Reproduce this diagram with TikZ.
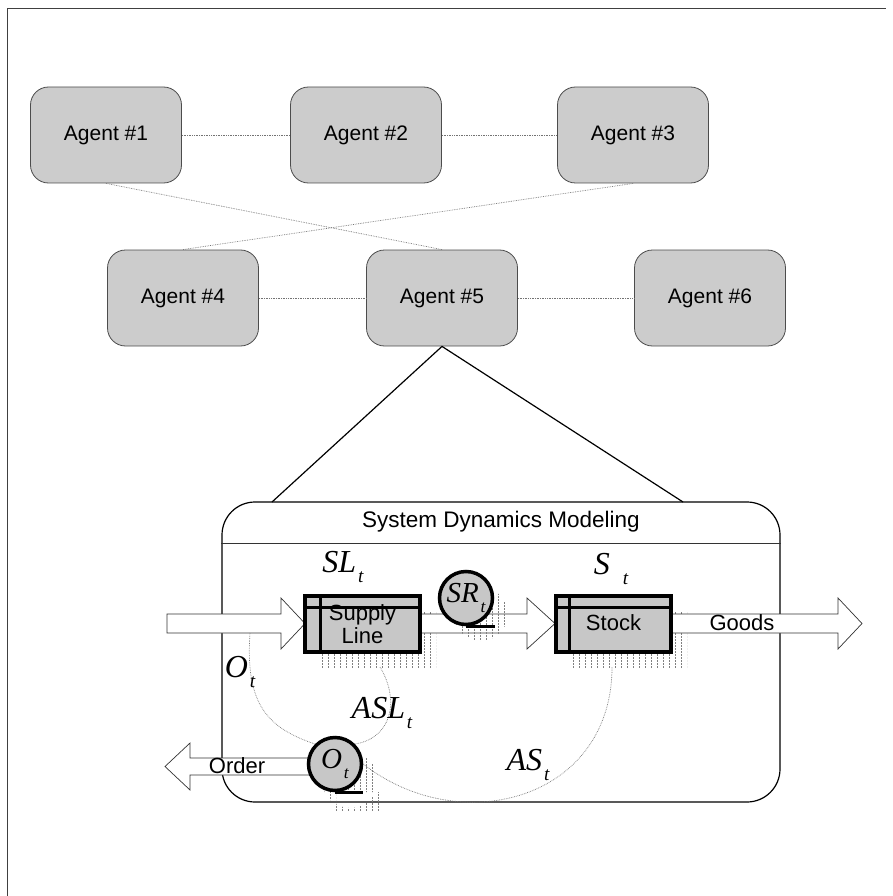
\documentclass[tikz,border=0pt]{standalone}
\usepackage{fontspec}
\usepackage{graphicx}
\setmainfont{Liberation Sans}
\newfontfamily\tnr{Liberation Serif}
\usetikzlibrary{calc}

% italic variable name with a lowered, reduced subscript
\newcommand\mlab[2]{{\tnr\itshape #1\kern0.06em\raisebox{-0.32em}{\scalebox{0.6}{#2}}}}
% fat flow arrow: start x, head base x, tip x, centre y, body half height, head half height
\newcommand\fatarrow[6]{%
  \draw[flow] (#1,#4-#5) -- (#2,#4-#5) -- (#2,#4-#6) -- (#3,#4)
    -- (#2,#4+#6) -- (#2,#4+#5) -- (#1,#4+#5) -- cycle;}
% vertical stripes filling a clipped region
\newcommand\stripes[4]{% x0, y0, x1, y1
  \begin{scope}
    \clip (#1,#2) rectangle (#3,#4);
    \foreach \k in {#1,...,#3} {\pgfmathparse{mod(\k-#1,6)==2}
      \ifnum\pgfmathresult=1 \draw[stripe] (\k,#2) -- (\k,#4);\fi}
  \end{scope}}

\begin{document}
\begin{tikzpicture}[x=1pt,y=-1pt,
  agent/.style={draw=black!70, fill=black!20, rounded corners=18pt,
    minimum width=151pt, minimum height=96pt, line width=0.8pt,
    font=\fontsize{21}{25}\selectfont},
  link/.style={densely dotted, draw=black!55, line width=0.7pt},
  sdbox/.style={draw=black, line width=1.2pt, rounded corners=33pt,
    minimum width=558pt, minimum height=300pt},
  level/.style={draw=black, line width=3.5pt, fill=black!22,
    minimum width=115pt, minimum height=56pt, inner sep=0pt},
  flow/.style={draw=black!80, fill=white, line width=0.7pt},
  valve/.style={circle, draw=black, line width=3.5pt, fill=black!22,
    minimum size=53pt, inner sep=0pt, font=\fontsize{29}{29}\selectfont},
  stripe/.style={draw=black!50, line width=0.8pt, dash pattern=on 2pt off 1pt},
  info/.style={densely dotted, draw=black!55, line width=0.7pt},
  mathlbl/.style={font=\fontsize{32}{32}\selectfont},
  sdlbl/.style={font=\fontsize{22}{23}\selectfont, align=center}]

\useasboundingbox (0,0) rectangle (893,896);

% frame
\draw[black!75, line width=0.8pt] (7,896) -- (7,8) -- (886,8);

% agents
\node[agent] (a1) at (106,135) {Agent \#1};
\node[agent] (a2) at (366,135) {Agent \#2};
\node[agent] (a3) at (633,135) {Agent \#3};
\node[agent] (a4) at (183,298) {Agent \#4};
\node[agent] (a5) at (442,298) {Agent \#5};
\node[agent] (a6) at (710,298) {Agent \#6};

\draw[link] (a1) -- (a2);
\draw[link] (a2) -- (a3);
\draw[link] (a4) -- (a5);
\draw[link] (a5) -- (a6);
\draw[link] (a1.south) -- (a5.north);
\draw[link] (a3.south) -- (a4.north);

% system dynamics panel
\node[sdbox] (sd) at (501,652) {};
\coordinate (sdL) at (272,502);
\coordinate (sdR) at (683,502);
\draw[line width=1.2pt] (sdL) -- (a5.south) -- (sdR);
\draw[black!80, line width=0.8pt] (sd.west |- 0,543) -- (sd.east |- 0,543);
\node[font=\fontsize{22.5}{26}\selectfont] (title) at (501,522) {System Dynamics Modeling};

% striped shadows
\stripes{320}{612}{436}{668}
\stripes{571}{612}{687}{668}

% material flows
\fatarrow{167}{281}{305}{623.5}{9.5}{25.5}
\fatarrow{421}{527}{555}{623.5}{9.5}{25.5}
\fatarrow{671}{838}{862}{623.5}{9.5}{25.5}
\fatarrow{310}{190}{165}{766.5}{8.5}{23.5}

% shadows of the valves
\begin{scope}
  \clip (481,614) circle (27);
  \stripes{454}{587}{509}{642}
\end{scope}
\begin{scope}
  \clip (350,780) circle (28) (336,792) rectangle (380,812);
  \stripes{322}{752}{380}{812}
\end{scope}

% levels
\node[level] (sl) at (362.5,624) {};
\draw[line width=3pt] ($(sl.north west)+(17,0)$) -- ($(sl.south west)+(17,0)$);
\draw[line width=3pt] ($(sl.north west)+(0,13)$) -- ($(sl.north east)+(0,13)$);
\node[sdlbl] (slt) at (sl) {Supply\\Line};

\node[level] (st) at (613.5,624) {};
\draw[line width=3pt] ($(st.north west)+(15,0)$) -- ($(st.south west)+(15,0)$);
\draw[line width=3pt] ($(st.north west)+(0,13)$) -- ($(st.north east)+(0,13)$);
\node[sdlbl] (stt) at ($(st)+(0,-1)$) {Stock};

\node[sdlbl] (goods) at (742,623) {Goods};
\node[sdlbl] (order) at (237,766) {Order};

% rate valves
\node[valve] (sr) at (466,598) {\mlab{SR}{t}};
\draw[line width=3.5pt] (sr.south) -- ++(29,0);
\node[valve] (ov) at (335,764) {\mlab{O}{t}};
\draw[line width=3.5pt] (ov.south) -- ++(28,0);

% information links
\coordinate (oStart) at (250,633);
\coordinate (aslStart) at (380,667);
\coordinate (asStart) at (612,667);
\draw[info] (oStart) .. controls (245,705) and (268,728) .. (ov.north west);
\draw[info] (aslStart) .. controls (400,700) and (392,738) .. (ov.north east);
\draw[info] (asStart) .. controls (612,800) and (460,840) .. (ov.east);

% variable labels
\node[mathlbl] (lSL) at (343,567) {\mlab{SL}{t}};
\node[mathlbl] (lS) at (611,569) {\mlab{S\kern0.35em}{t}};
\node[mathlbl] (lO) at (240,672) {\mlab{O}{t}};
\node[mathlbl] (lASL) at (382,713) {\mlab{ASL}{t}};
\node[mathlbl] (lAS) at (528,765) {\mlab{AS}{t}};
\end{tikzpicture}
\end{document}
